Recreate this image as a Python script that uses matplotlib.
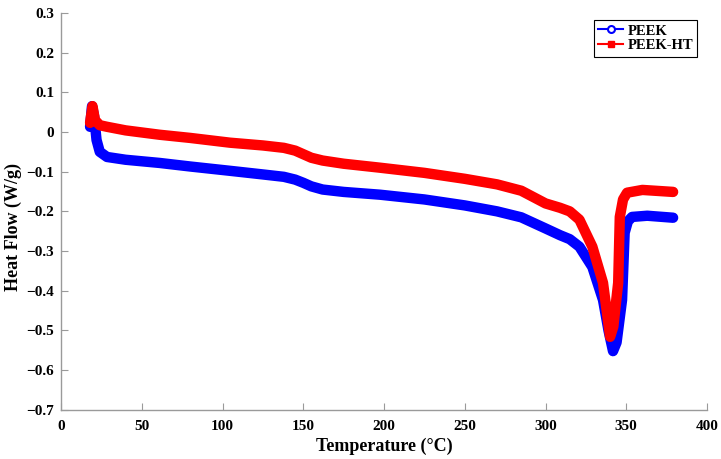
import matplotlib
matplotlib.use("Agg")
import matplotlib.pyplot as plt
from matplotlib.lines import Line2D

# DSC curves
T_peek = [18, 19.2, 20.5, 22, 24, 28.5, 40, 61, 80, 105, 125, 138, 145, 150, 155,
          162, 175, 197.5, 225, 250, 270, 285, 300, 309, 315, 321, 329, 335.6, 339,
          341.8, 344, 347.4, 349, 351, 353.6, 363, 379]
hf_peek = [0.013, 0.065, 0.04, -0.02, -0.05, -0.063, -0.07, -0.078, -0.087, -0.098,
           -0.107, -0.113, -0.12, -0.128, -0.137, -0.145, -0.151, -0.158, -0.17, -0.185,
           -0.2, -0.215, -0.243, -0.26, -0.27, -0.289, -0.34, -0.423, -0.5, -0.552,
           -0.53, -0.423, -0.254, -0.225, -0.214, -0.211, -0.216]

T_ht = [18, 19.5, 21, 24, 28.5, 40, 61, 80, 104.6, 125, 138, 145, 150, 155, 162, 175,
        197.5, 225, 250, 270, 285, 300, 309, 315, 321, 329, 335.6, 340, 342, 345,
        346, 348, 350.5, 360, 379]
hf_ht = [0.023, 0.065, 0.03, 0.017, 0.013, 0.004, -0.007, -0.015, -0.027, -0.034,
         -0.04, -0.047, -0.056, -0.065, -0.072, -0.08, -0.09, -0.103, -0.118, -0.132,
         -0.148, -0.18, -0.191, -0.2, -0.221, -0.289, -0.38, -0.516, -0.49, -0.38,
         -0.214, -0.17, -0.153, -0.146, -0.151]

labels = ["PEEK", "PEEK-HT"]
x_ticks = [0, 50, 100, 150, 200, 250, 300, 350, 400]
y_ticks = [-0.7, -0.6, -0.5, -0.4, -0.3, -0.2, -0.1, 0, 0.1, 0.2, 0.3]
y_tick_labels = ["\u22120.7", "\u22120.6", "\u22120.5", "\u22120.4", "\u22120.3",
                 "\u22120.2", "\u22120.1", "0", "0.1", "0.2", "0.3"]

plt.rcParams["font.family"] = ["Liberation Serif", "DejaVu Serif"]
plt.rcParams["font.weight"] = "bold"

fig = plt.figure(figsize=(7.21, 4.59), dpi=100)
ax = fig.add_axes([0.0846, 0.107, 0.896, 0.865])

ax.plot(T_peek, hf_peek, color="#0000ff", lw=7.5, solid_capstyle="round", solid_joinstyle="round")
ax.plot(T_ht, hf_ht, color="#ff0000", lw=7.5, solid_capstyle="round", solid_joinstyle="round")

ax.set_xlim(0, 400)
ax.set_ylim(-0.7, 0.3)
ax.set_xticks(x_ticks)
ax.set_yticks(y_ticks)
ax.set_yticklabels(y_tick_labels)

for s in ["top", "right"]:
    ax.spines[s].set_visible(False)
for s in ["left", "bottom"]:
    ax.spines[s].set_color("#9a9a9a")
    ax.spines[s].set_linewidth(1.0)
ax.tick_params(direction="in", length=5, color="#9a9a9a", labelsize=11)
ax.tick_params(axis="x", pad=7)
ax.tick_params(axis="y", pad=5)
for lab in ax.get_xticklabels() + ax.get_yticklabels():
    lab.set_fontweight("bold")

ax.set_xlabel("Temperature (\u00b0C)", fontsize=13, fontweight="bold", labelpad=4)
ax.set_ylabel("Heat Flow (W/g)", fontsize=13, fontweight="bold")
ax.yaxis.set_label_coords(-0.06, 0.46)

handles = [
    Line2D([], [], color="#0000ff", lw=1.5, marker="o", ms=5, mfc="white", mec="#0000ff", mew=1.5),
    Line2D([], [], color="#ff0000", lw=1.5, marker="s", ms=4, mfc="#ff0000", mec="#ff0000"),
]
leg = ax.legend(handles, labels, loc="upper right", bbox_to_anchor=(0.985, 0.982),
                borderaxespad=0, fancybox=False, edgecolor="black", framealpha=1,
                handlelength=1.7, handletextpad=0.3, borderpad=0.3, labelspacing=0.1,
                prop={"weight": "bold", "size": 10.5})
leg.get_frame().set_linewidth(0.8)

fig.savefig("out.png", dpi=100)
